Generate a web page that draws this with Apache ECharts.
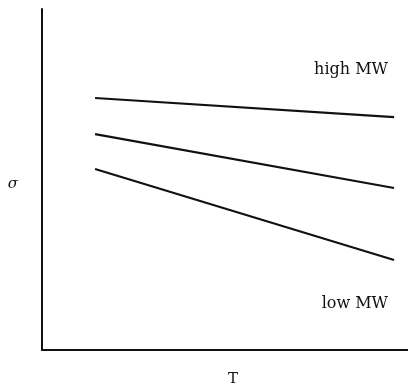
<!DOCTYPE html>
<html>
<head>
<meta charset="utf-8">
<script src="https://cdn.jsdelivr.net/npm/echarts@6/dist/echarts.min.js"></script>
<style>html,body{margin:0;padding:0;background:#fff}#c{width:408px;height:390px}</style>
</head>
<body>
<div id="c"></div>
<script>
var tValues = [14.5, 96.2];
var highMW = [73.9, 68.3];
var midMW = [63.3, 47.5];
var lowMW = [53.1, 26.4];
var xName = 'T';
var yName = 'σ';
var highLabel = 'high MW';
var lowLabel = 'low MW';

function pairs(ys) { return tValues.map(function (t, i) { return [t, ys[i]]; }); }
var lineStyle = { color: '#111', width: 2.2 };
function mk(name, ys) {
  return { name: name, type: 'line', data: pairs(ys), symbol: 'none', lineStyle: lineStyle, silent: true };
}
var chart = echarts.init(document.getElementById('c'));
chart.setOption({
  backgroundColor: '#fff',
  animation: false,
  grid: { left: 42, right: 0, top: 9, bottom: 40, outerBoundsMode: 'none', containLabel: false },
  xAxis: {
    type: 'value', min: 0, max: 100,
    name: xName, nameLocation: 'middle', nameGap: 22,
    nameTextStyle: { fontFamily: 'DejaVu Serif', fontSize: 15, color: '#111', padding: [0, 0, 0, 16] },
    axisLine: { show: true, lineStyle: { color: '#111', width: 2 } },
    axisTick: { show: false }, axisLabel: { show: false }, splitLine: { show: false }
  },
  yAxis: {
    type: 'value', min: 0, max: 100,
    name: yName, nameLocation: 'middle', nameGap: 24, nameRotate: 0,
    nameTextStyle: { fontFamily: 'DejaVu Serif', fontStyle: 'italic', fontSize: 15, color: '#111', verticalAlign: 'top', lineHeight: 10 },
    axisLine: { show: true, lineStyle: { color: '#111', width: 2 } },
    axisTick: { show: false }, axisLabel: { show: false }, splitLine: { show: false }
  },
  series: [mk('high', highMW), mk('mid', midMW), mk('low', lowMW)],
  graphic: [
    { type: 'text', right: 20, top: 62, style: { text: highLabel, fontFamily: 'DejaVu Serif', fontSize: 16, fill: '#111' } },
    { type: 'text', right: 20, top: 296, style: { text: lowLabel, fontFamily: 'DejaVu Serif', fontSize: 16, fill: '#111' } }
  ]
});
</script>
</body>
</html>
